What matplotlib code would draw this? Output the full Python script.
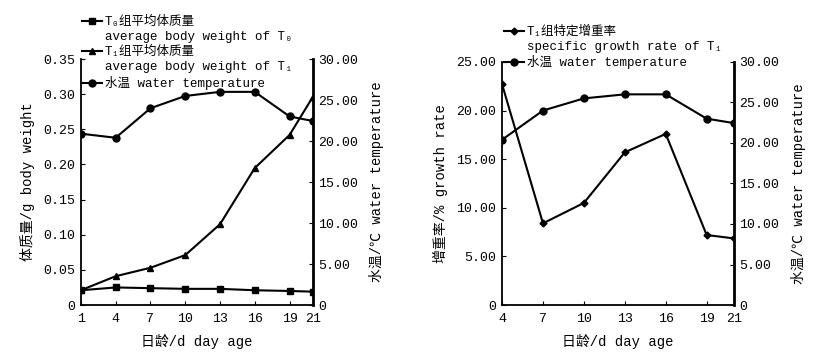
import matplotlib
matplotlib.use('Agg')
import matplotlib.pyplot as plt
from matplotlib.lines import Line2D
from matplotlib.ticker import FuncFormatter

plt.rcParams['font.family'] = ['Liberation Mono', 'Noto Sans CJK SC', 'DejaVu Sans']
plt.rcParams['font.size'] = 9

# data
days = [1, 4, 7, 10, 13, 16, 19, 21]
t0_weight = [0.021, 0.025, 0.024, 0.023, 0.023, 0.021, 0.020, 0.019]
t1_weight = [0.021, 0.041, 0.053, 0.071, 0.115, 0.195, 0.242, 0.296]
water_temp = [20.9, 20.4, 24.0, 25.5, 26.0, 26.0, 23.0, 22.45]

rate_days = [4, 7, 10, 13, 16, 19, 21]
t1_rate = [22.7, 8.4, 10.5, 15.7, 17.6, 7.2, 6.85]
rate_temp = water_temp[1:]

fmt2 = FuncFormatter(lambda v, p: '0' if abs(v) < 1e-9 else '%.2f' % v)


def style_axes(ax, axr):
    for a in (ax, axr):
        a.spines['top'].set_visible(False)
    ax.spines['right'].set_visible(False)
    ax.spines['left'].set_linewidth(1.3)
    ax.spines['bottom'].set_linewidth(1.3)
    axr.spines['right'].set_linewidth(2)
    axr.spines['left'].set_visible(False)
    axr.spines['bottom'].set_visible(False)
    ax.tick_params(direction='in', length=3, labelsize=9.5, pad=4)
    ax.tick_params(axis='x', pad=6)
    axr.tick_params(direction='in', length=3, labelsize=9.5, pad=4)


fig = plt.figure(figsize=(8.34, 3.58), dpi=100)

# ---- left panel: body weight ----
ax1 = fig.add_axes([0.097, 0.148, 0.278, 0.687])
ax1r = ax1.twinx()
l0, = ax1.plot(days, t0_weight, color='black', lw=1.5, marker='s', ms=5)
l1, = ax1.plot(days, t1_weight, color='black', lw=1.5, marker='^', ms=5)
l2, = ax1r.plot(days, water_temp, color='black', lw=1.5, marker='o', ms=5)
ax1.set_xlim(1, 21)
ax1.set_ylim(0, 0.35)
ax1r.set_ylim(0, 30)
ax1.set_xticks(days)
ax1.set_yticks([0, 0.05, 0.10, 0.15, 0.20, 0.25, 0.30, 0.35])
ax1.yaxis.set_major_formatter(fmt2)
ax1r.set_yticks([0, 5, 10, 15, 20, 25, 30])
ax1r.yaxis.set_major_formatter(fmt2)
style_axes(ax1, ax1r)
ax1.set_xlabel('日龄/d day age', fontsize=10, labelpad=6)
ax1.set_ylabel('体质量/g body weight', fontsize=10, labelpad=6)
ax1r.set_ylabel('水温/℃ water temperature', fontsize=10, labelpad=8)

blank = Line2D([], [], linestyle='none')
ax1r.legend([l0, blank, l1, blank, l2],
            ['T₀组平均体质量', 'average body weight of T₀',
             'T₁组平均体质量', 'average body weight of T₁',
             '水温 water temperature'],
            loc='upper left', bbox_to_anchor=(0.005, 1.175), frameon=False,
            fontsize=9, borderpad=0, borderaxespad=0, labelspacing=0.24,
            handlelength=1.6, handletextpad=0.2)

# ---- right panel: specific growth rate ----
ax2 = fig.add_axes([0.602, 0.148, 0.278, 0.679])
ax2r = ax2.twinx()
r0, = ax2.plot(rate_days, t1_rate, color='black', lw=1.5, marker='D', ms=3.5)
r1, = ax2r.plot(rate_days, rate_temp, color='black', lw=1.5, marker='o', ms=5)
ax2.set_xlim(4, 21)
ax2.set_ylim(0, 25)
ax2r.set_ylim(0, 30)
ax2.set_xticks(rate_days)
ax2.set_yticks([0, 5, 10, 15, 20, 25])
ax2.yaxis.set_major_formatter(fmt2)
ax2r.set_yticks([0, 5, 10, 15, 20, 25, 30])
ax2r.yaxis.set_major_formatter(fmt2)
style_axes(ax2, ax2r)
ax2.set_xlabel('日龄/d day age', fontsize=10, labelpad=6)
ax2.set_ylabel('增重率/% growth rate', fontsize=10, labelpad=6)
ax2r.set_ylabel('水温/℃ water temperature', fontsize=10, labelpad=8)

ax2r.legend([r0, blank, r1],
            ['T₁组特定增重率', 'specific growth rate of T₁',
             '水温 water temperature'],
            loc='upper left', bbox_to_anchor=(0.01, 1.15), frameon=False,
            fontsize=9, borderpad=0, borderaxespad=0, labelspacing=0.22,
            handlelength=1.6, handletextpad=0.2)

fig.savefig('out.png', dpi=100)
